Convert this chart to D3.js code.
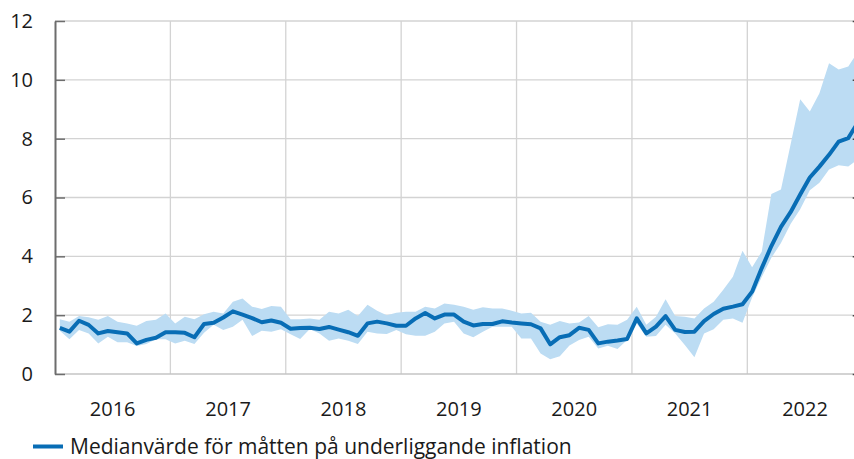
<!DOCTYPE html>
<html>
<head>
<meta charset="utf-8">
<script src="https://cdn.jsdelivr.net/npm/d3@7"></script>
<style>
  body { margin: 0; background: #fff; }
  svg { display: block; }
  text { font-family: "Open Sans", sans-serif; fill: #1a1a1a; }
</style>
</head>
<body>
<svg id="chart" width="854" height="459"></svg>
<script>
// year labels on the x axis, one category per month
const years = ["2016", "2017", "2018", "2019", "2020", "2021", "2022"];
const yTicks = [0, 2, 4, 6, 8, 10, 12];
const legendLabel = "Medianvärde för måtten på underliggande inflation";

// median of the underlying inflation measures, Jan 2016 - Dec 2022
const median = [
  1.57, 1.44, 1.81, 1.67, 1.38, 1.46, 1.42, 1.38, 1.04, 1.16, 1.23, 1.42,
  1.42, 1.40, 1.25, 1.70, 1.74, 1.92, 2.13, 2.02, 1.90, 1.76, 1.82, 1.74,
  1.54, 1.56, 1.57, 1.53, 1.60, 1.51, 1.42, 1.30, 1.72, 1.78, 1.72, 1.64,
  1.64, 1.89, 2.07, 1.89, 2.02, 2.02, 1.78, 1.65, 1.70, 1.70, 1.79, 1.75,
  1.72, 1.69, 1.55, 1.01, 1.25, 1.32, 1.57, 1.50, 1.04, 1.10, 1.14, 1.19,
  1.89, 1.38, 1.61, 1.97, 1.50, 1.43, 1.44, 1.80, 2.04, 2.22, 2.29, 2.37,
  2.80, 3.60, 4.35, 5.00, 5.50, 6.10, 6.68, 7.05, 7.45, 7.90, 8.02, 8.55
];

// highest of the measures
const upper = [
  1.86, 1.78, 1.97, 1.93, 1.84, 1.97, 1.78, 1.72, 1.64, 1.80, 1.84, 2.06,
  1.72, 1.95, 1.86, 2.03, 2.12, 2.06, 2.46, 2.57, 2.29, 2.21, 2.31, 2.29,
  1.86, 1.86, 1.89, 1.84, 2.12, 2.06, 2.18, 1.97, 2.35, 2.15, 2.00, 2.08,
  2.12, 2.12, 2.29, 2.23, 2.40, 2.35, 2.29, 2.18, 2.27, 2.23, 2.23, 2.15,
  2.06, 2.08, 1.78, 1.67, 1.80, 1.72, 1.75, 1.97, 1.59, 1.69, 1.67, 1.84,
  2.29, 1.67, 1.95, 2.54, 1.97, 1.95, 1.89, 2.23, 2.46, 2.86, 3.31, 4.19,
  3.63, 4.16, 6.12, 6.27, 7.80, 9.34, 8.92, 9.54, 10.56, 10.35, 10.45, 10.95
];

// lowest of the measures
const lower = [
  1.47, 1.18, 1.50, 1.38, 1.04, 1.27, 1.08, 1.08, 0.95, 1.02, 1.18, 1.18,
  1.04, 1.13, 1.02, 1.40, 1.67, 1.50, 1.61, 1.84, 1.29, 1.47, 1.44, 1.52,
  1.35, 1.19, 1.53, 1.38, 1.13, 1.21, 1.13, 1.02, 1.44, 1.38, 1.36, 1.50,
  1.35, 1.30, 1.30, 1.44, 1.72, 1.78, 1.38, 1.25, 1.44, 1.61, 1.61, 1.61,
  1.21, 1.21, 0.70, 0.50, 0.60, 0.97, 1.16, 1.27, 0.87, 0.96, 0.85, 1.16,
  1.72, 1.27, 1.29, 1.67, 1.38, 0.99, 0.57, 1.38, 1.52, 1.84, 1.89, 1.74,
  2.60, 3.30, 3.95, 4.45, 5.10, 5.60, 6.25, 6.50, 6.95, 7.10, 7.05, 7.30
];

const months = years.flatMap(y => d3.range(1, 13).map(m => y + "-" + String(m).padStart(2, "0")));
const rows = months.map((m, i) => ({ m, med: median[i], hi: upper[i], lo: lower[i] }));

const svg = d3.select("#chart");
const plotLeft = 55, plotRight = 862.7, plotTop = 21, plotBottom = 374;

const x = d3.scaleBand().domain(months).range([plotLeft, plotRight]).padding(0);
const y = d3.scaleLinear().domain([0, 12]).range([plotBottom, plotTop]);
const cx = m => x(m) + x.bandwidth() / 2;

// grid
svg.append("g")
  .selectAll("line")
  .data(yTicks.filter(t => t > 0))
  .join("line")
  .attr("x1", plotLeft).attr("x2", plotRight)
  .attr("y1", d => y(d)).attr("y2", d => y(d))
  .attr("stroke", "#d3d3d3").attr("stroke-width", 1.3);

svg.append("g")
  .selectAll("line")
  .data(years.slice(1))
  .join("line")
  .attr("x1", d => x(d + "-01")).attr("x2", d => x(d + "-01"))
  .attr("y1", plotTop).attr("y2", plotBottom)
  .attr("stroke", "#d3d3d3").attr("stroke-width", 1.3);

// spread between the measures
svg.append("path")
  .datum(rows)
  .attr("fill", "#bcdcf3")
  .attr("d", d3.area().x(d => cx(d.m)).y0(d => y(d.lo)).y1(d => y(d.hi)));

svg.append("path")
  .datum(rows)
  .attr("fill", "none")
  .attr("stroke", "#086db5")
  .attr("stroke-width", 4)
  .attr("stroke-linejoin", "round")
  .attr("d", d3.line().x(d => cx(d.m)).y(d => y(d.med)));

// bottom line
svg.append("line")
  .attr("x1", plotLeft).attr("x2", plotRight)
  .attr("y1", plotBottom).attr("y2", plotBottom)
  .attr("stroke", "#c4c4c4").attr("stroke-width", 1.5);

// left axis, ticks pointing inwards
const yAxis = svg.append("g")
  .attr("transform", "translate(" + plotLeft + ",0)")
  .call(d3.axisLeft(y).tickValues(yTicks).tickSize(-10).tickSizeOuter(0).tickPadding(22));
yAxis.select(".domain").attr("stroke", "#6d6d6d").attr("stroke-width", 2);
yAxis.selectAll(".tick line").attr("stroke", "#6d6d6d").attr("stroke-width", 1.5);
yAxis.selectAll("text").attr("font-size", 20).style("font-family", "Open Sans").attr("fill", "#1a1a1a");

// right axis (only its inner ticks show)
const yAxisR = svg.append("g")
  .attr("transform", "translate(" + plotRight + ",0)")
  .call(d3.axisRight(y).tickValues(yTicks).tickSize(-10).tickSizeOuter(0).tickFormat(""));
yAxisR.select(".domain").attr("stroke", "#6d6d6d").attr("stroke-width", 2);
yAxisR.selectAll(".tick line").attr("stroke", "#444").attr("stroke-width", 1.5);

// year labels
svg.append("g")
  .selectAll("text")
  .data(years)
  .join("text")
  .attr("x", d => x(d + "-07"))
  .attr("y", 416)
  .attr("text-anchor", "middle")
  .attr("font-size", 20)
  .text(d => d);

// legend
svg.append("line")
  .attr("x1", 33).attr("x2", 63)
  .attr("y1", 446.5).attr("y2", 446.5)
  .attr("stroke", "#086db5").attr("stroke-width", 4);
svg.append("text")
  .attr("x", 70).attr("y", 454)
  .attr("font-size", 21)
  .text(legendLabel);
</script>
</body>
</html>
